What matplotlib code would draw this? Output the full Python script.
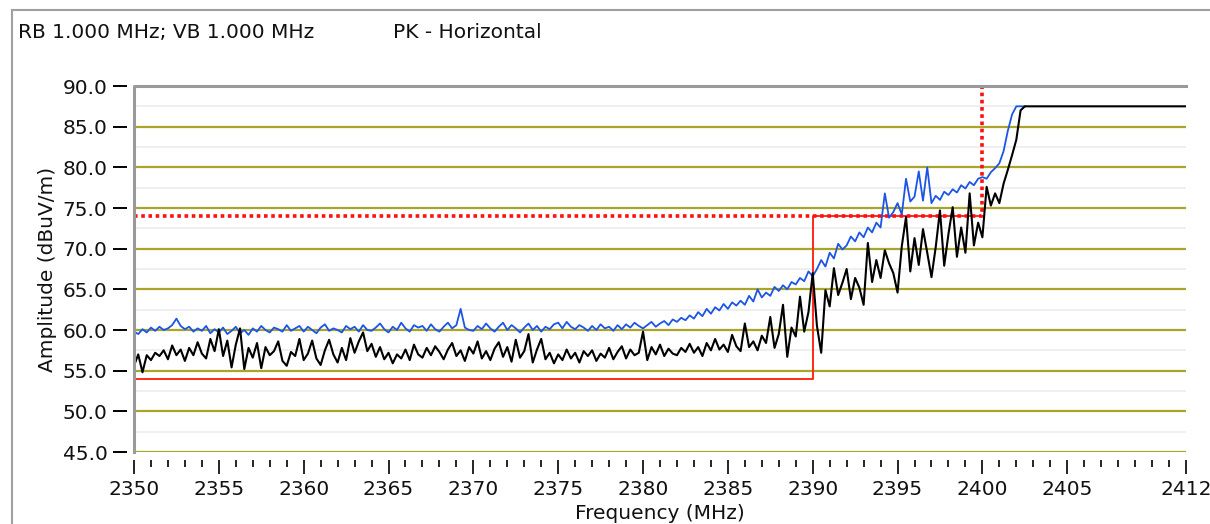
import numpy as np
import matplotlib
matplotlib.use("Agg")
import matplotlib.pyplot as plt
from matplotlib.ticker import MultipleLocator, FixedLocator
from matplotlib.lines import Line2D

# sweep points, 0.25 MHz apart
freq_start = 2350.0
freq_step = 0.25

# blue trace (dBuV/m), one row per MHz
blue = [
    59.8, 59.5, 60.1, 59.7,
    60.3, 59.9, 60.4, 60.0,
    60.2, 60.6, 61.4, 60.5,
    60.1, 60.4, 59.8, 60.2,
    59.9, 60.5, 59.6, 60.1,
    59.7, 60.3, 59.5, 59.9,
    60.4, 59.6, 60.0, 59.4,
    60.2, 59.8, 60.5, 60.0,
    59.7, 60.3, 60.1, 59.8,
    60.6, 59.9, 60.2, 60.5,
    59.8, 60.4, 60.0, 59.6,
    60.3, 60.7, 59.9, 60.2,
    60.0, 59.7, 60.5, 60.1,
    60.4, 59.8, 60.6, 60.0,
    59.9, 60.3, 60.8, 60.1,
    59.7, 60.4, 60.0, 60.9,
    60.2, 59.8, 60.6, 60.3,
    60.5, 59.9, 60.7, 60.1,
    59.8, 60.4, 60.9, 60.2,
    60.6, 62.6, 60.3, 60.0,
    59.9, 60.5, 60.1, 60.8,
    60.2, 59.8, 60.4, 60.9,
    60.0, 60.6, 60.2, 59.7,
    60.3, 60.8, 60.0, 60.5,
    59.8, 60.4, 60.1, 60.7,
    60.9, 60.2, 61.0, 60.4,
    60.1, 60.6, 60.3, 59.9,
    60.5, 60.0, 60.7, 60.2,
    60.4, 59.9, 60.6, 60.1,
    60.7, 60.3, 60.9, 60.5,
    60.2, 60.6, 61.0, 60.4,
    60.8, 61.1, 60.6, 61.3,
    61.0, 61.5, 61.2, 61.8,
    61.4, 62.2, 61.7, 62.6,
    62.0, 62.8, 62.4, 63.2,
    62.6, 63.4, 63.0, 63.6,
    63.1, 64.2, 63.5, 65.0,
    64.0, 64.6, 64.2, 65.3,
    64.8, 65.5, 65.0, 65.9,
    65.6, 66.4, 66.0, 67.2,
    66.6, 67.5, 68.6, 67.8,
    69.5, 68.8, 70.6, 69.9,
    70.4, 71.5, 70.9, 72.0,
    71.4, 72.6, 72.0, 73.2,
    72.6, 76.8, 73.8, 74.5,
    75.6, 74.2, 78.6, 75.8,
    76.4, 79.5, 75.9, 80.0,
    75.6, 76.5, 76.0, 77.0,
    76.6, 77.3, 76.9, 77.8,
    77.4, 78.2, 77.8, 78.6,
    78.8, 78.6, 79.4, 79.9,
    80.5, 82.0, 84.5, 86.5,
    87.5, 87.5, 87.5,
]

# black trace (dBuV/m), same sweep points
black = [
    55.6, 57.0, 54.8, 56.9,
    56.3, 57.2, 56.8, 57.5,
    56.4, 58.1, 56.9, 57.6,
    56.2, 57.8, 56.9, 58.5,
    57.1, 56.5, 58.9, 57.4,
    60.1, 56.8, 58.7, 55.4,
    58.2, 60.2, 55.2, 57.8,
    56.6, 58.4, 55.3, 57.9,
    56.9, 57.4, 58.6, 56.2,
    55.6, 57.3, 56.8, 58.9,
    56.3, 57.1, 58.7, 56.5,
    55.7, 57.5, 58.8, 57.0,
    56.0, 57.8, 56.3, 59.0,
    57.2, 58.6, 59.7, 57.4,
    58.3, 56.7, 57.9, 56.4,
    57.2, 55.9, 57.0, 56.5,
    57.6, 56.3, 58.2, 57.0,
    56.6, 57.8, 56.9, 58.0,
    57.3, 56.4, 57.6, 58.4,
    56.8, 57.5, 56.2, 57.9,
    57.1, 58.6, 56.5, 57.4,
    56.3, 57.7, 58.5, 56.7,
    57.9, 56.1, 58.8, 56.6,
    57.4, 59.5, 56.0, 57.6,
    58.9, 56.4, 57.2, 55.9,
    57.0, 56.3, 57.6, 56.5,
    57.2, 56.0, 57.4, 56.8,
    57.5, 56.2, 57.1, 56.6,
    57.8, 56.4, 57.3, 58.0,
    56.5, 57.6, 56.9, 57.2,
    59.8, 56.3, 57.9, 57.0,
    58.2, 56.8, 57.7, 57.1,
    56.9, 57.8, 57.3, 58.3,
    57.2, 57.9, 56.8, 58.4,
    57.5, 58.9, 57.6, 58.2,
    57.3, 59.4, 58.0, 57.4,
    60.8, 57.9, 58.6, 57.5,
    59.3, 58.4, 61.6, 57.8,
    59.5, 63.1, 56.7, 60.3,
    59.2, 64.1, 59.8, 62.2,
    67.0, 60.5, 57.2, 64.9,
    62.9, 67.6, 64.3, 65.8,
    67.5, 63.8, 66.4, 65.2,
    63.1, 70.7, 65.9, 68.6,
    66.4, 69.8, 68.2, 67.0,
    64.6, 70.3, 73.9, 67.2,
    71.3, 68.0, 72.4, 69.5,
    66.5, 70.2, 74.7, 67.9,
    71.8, 75.1, 69.0, 72.6,
    69.5, 76.8, 70.4, 73.2,
    71.4, 77.6, 75.3, 76.8,
    75.6, 78.0, 79.7, 81.5,
    83.4, 87.0, 87.5,
]
black_end_f = 2412
black_end_v = 87.5

# limit lines
av_limit_f = [2350, 2390, 2390, 2400]
av_limit_v = [54, 54, 74, 74]
pk_limit_f = [2350, 2400, 2400]
pk_limit_v = [74, 74, 90]

x_major = [2350, 2355, 2360, 2365, 2370, 2375, 2380, 2385, 2390, 2395, 2400, 2405, 2412]
header_left = "RB 1.000 MHz; VB 1.000 MHz"
header_right = "PK - Horizontal"

f = freq_start + freq_step * np.arange(len(blue))
fb = freq_start + freq_step * np.arange(len(black))
fb = np.append(fb, black_end_f)
vb = np.append(black, black_end_v)

plt.rcParams['font.family'] = ['DejaVu Sans']
fig = plt.figure(figsize=(12.1, 5.24), dpi=100)
ax = fig.add_axes([134/1210, 1-452/524, (1186-134)/1210, (452-86)/524])

# panel frame
frame = '#a0a0a0'
fig.add_artist(Line2D([12/1210, 1], [1-10/524, 1-10/524], color=frame, lw=1.5))
fig.add_artist(Line2D([12/1210, 12/1210], [0, 1-10/524], color=frame, lw=1.5))
fig.text(18/1210, 1-33/524, header_left, fontsize=14.5, va='center', ha='left', color='#111111')
fig.text(393/1210, 1-33/524, header_right, fontsize=14.5, va='center', ha='left', color='#111111')

ax.plot(av_limit_f, av_limit_v, color='#ff2a1a', lw=1.4, zorder=3)
ax.plot(pk_limit_f, pk_limit_v, color='#ff1010', lw=2.6, ls=(0, (1, 1)), zorder=3)
ax.plot(f, blue, color='#1a55e6', lw=1.3, zorder=4)
ax.plot(fb, vb, color='black', lw=1.5, zorder=5)

ax.set_xlim(2350, 2412)
ax.set_ylim(45, 90)
ax.xaxis.set_major_locator(FixedLocator(x_major))
ax.xaxis.set_minor_locator(MultipleLocator(1))
ax.yaxis.set_major_locator(MultipleLocator(5))
ax.yaxis.set_minor_locator(MultipleLocator(2.5))
ax.yaxis.set_major_formatter(lambda v, p: f"{v:.1f}")

ax.grid(True, axis='y', which='major', color='#aaa52a', lw=1.6, zorder=1)
ax.grid(True, axis='y', which='minor', color='#ececec', lw=1.2, zorder=0)
ax.set_axisbelow(True)

for s in ['top', 'right', 'bottom', 'left']:
    ax.spines[s].set_visible(False)
ax.spines['bottom'].set_position(('outward', 6))
ax.spines['left'].set_position(('outward', 5))
ax.plot([0, 0, 1], [0, 1, 1], transform=ax.transAxes, color='#9a9a9a', lw=2.2,
        clip_on=False, zorder=6)

ax.tick_params(axis='x', which='major', length=10, width=1.2, color='black',
               labelsize=14.5, pad=4, labelcolor='#111111')
ax.tick_params(axis='x', which='minor', length=5, width=1.2, color='black')
ax.tick_params(axis='y', which='major', length=10, width=1.4, color='black',
               labelsize=14.5, pad=4, labelcolor='#111111')
ax.tick_params(axis='y', which='minor', length=0)

ax.set_xlabel("Frequency (MHz)", fontsize=14.5, labelpad=4, color='#111111')
ax.set_ylabel("Amplitude (dBuV/m)", fontsize=14.5, labelpad=4, color='#111111')

fig.savefig("out.png", dpi=100, facecolor='white')
